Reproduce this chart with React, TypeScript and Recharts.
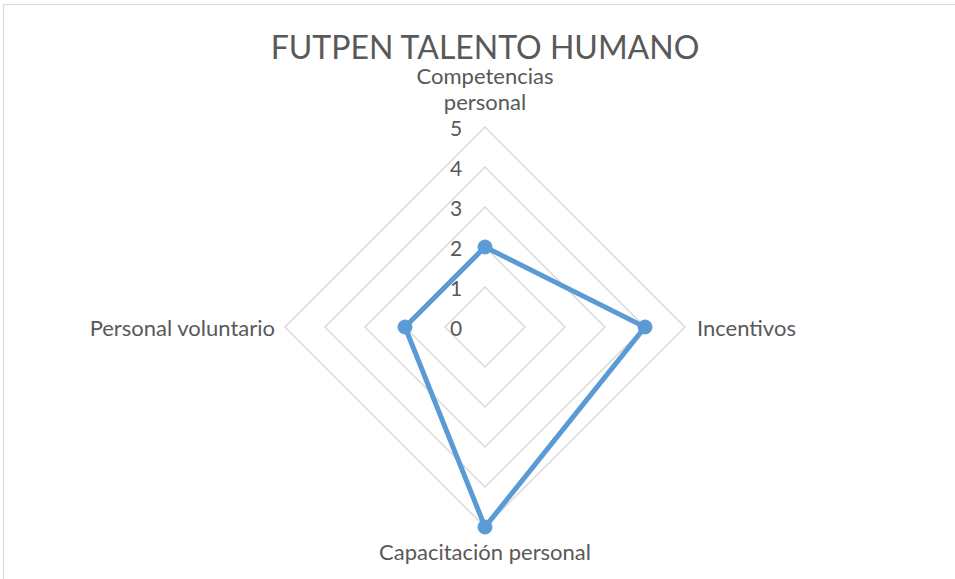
import React from 'react';
import { RadarChart, Radar, PolarGrid, PolarAngleAxis, PolarRadiusAxis } from 'recharts';

const categories = ['Competencias personal', 'Incentivos', 'Capacitación personal', 'Personal voluntario'];
const values = [2, 4, 5, 2];
const radiusTicks = [0, 1, 2, 3, 4, 5];
const title = 'FUTPEN TALENTO HUMANO';

const data = categories.map((c, i) => ({ category: c, value: values[i] }));

const CX = 485;
const CY = 327;
const FONT = 'Lato, Carlito, Calibri, sans-serif';
const TEXT = '#595959';
const LABEL_SIZE = 22;

const AngleTick = (props: any) => {
  const { x, y, payload } = props;
  const label: string = payload.value;
  if (y < CY - 10) {
    const lines = label.split(' ');
    const lh = 26;
    return (
      <g>
        {lines.map((l, i) => (
          <text key={i} x={x} y={y - 18 - (lines.length - 1 - i) * lh} textAnchor="middle" dominantBaseline="central" fill={TEXT} fontSize={LABEL_SIZE} fontFamily={FONT}>
            {l}
          </text>
        ))}
      </g>
    );
  }
  if (y > CY + 10) {
    return (
      <text x={x} y={y + 16} textAnchor="middle" dominantBaseline="central" fill={TEXT} fontSize={LABEL_SIZE} fontFamily={FONT}>
        {label}
      </text>
    );
  }
  if (x > CX) {
    return (
      <text x={x + 4} y={y} textAnchor="start" dominantBaseline="central" fill={TEXT} fontSize={LABEL_SIZE} fontFamily={FONT}>
        {label}
      </text>
    );
  }
  return (
    <text x={x - 2} y={y} textAnchor="end" dominantBaseline="central" fill={TEXT} fontSize={LABEL_SIZE} fontFamily={FONT}>
      {label}
    </text>
  );
};

const RadiusTick = (props: any) => {
  const { x, y, payload } = props;
  return (
    <text x={x - 29} y={y} textAnchor="middle" dominantBaseline="central" fill={TEXT} fontSize={21} fontFamily={FONT}>
      {payload.value}
    </text>
  );
};

export default function App() {
  return (
    <div style={{ position: 'absolute', left: 0, top: 0, width: 955, height: 579, background: '#fff', overflow: 'hidden' }}>
      <div style={{ position: 'absolute', left: 3, top: 4, width: 970, height: 600, border: '1px solid #d9d9d9', boxSizing: 'border-box' }} />
      <div style={{ position: 'absolute', left: 0, top: 31, width: 970, textAlign: 'center', fontFamily: FONT, fontSize: 32, color: TEXT, lineHeight: '32px' }}>
        {title}
      </div>
      <div style={{ position: 'absolute', left: 0, top: 0 }}>
        <RadarChart width={955} height={579} data={data} cx={CX} cy={CY} outerRadius={200} startAngle={90} endAngle={-270} margin={{ top: 0, right: 0, bottom: 0, left: 0 }}>
          <PolarGrid gridType="polygon" radialLines={false} stroke="#d9d9d9" strokeWidth={1.5} />
          <PolarAngleAxis dataKey="category" tick={<AngleTick />} axisLine={false} tickLine={false} />
          <PolarRadiusAxis angle={90} domain={[0, 5]} ticks={radiusTicks as any} tickCount={6} tick={<RadiusTick />} axisLine={false} tickLine={false} />
          <Radar dataKey="value" stroke="#5B9BD5" strokeWidth={5} fill="none" fillOpacity={0} isAnimationActive={false}
            dot={{ r: 7, fill: '#5B9BD5', stroke: '#5B9BD5', strokeWidth: 1, fillOpacity: 1 }} />
        </RadarChart>
      </div>
    </div>
  );
}
